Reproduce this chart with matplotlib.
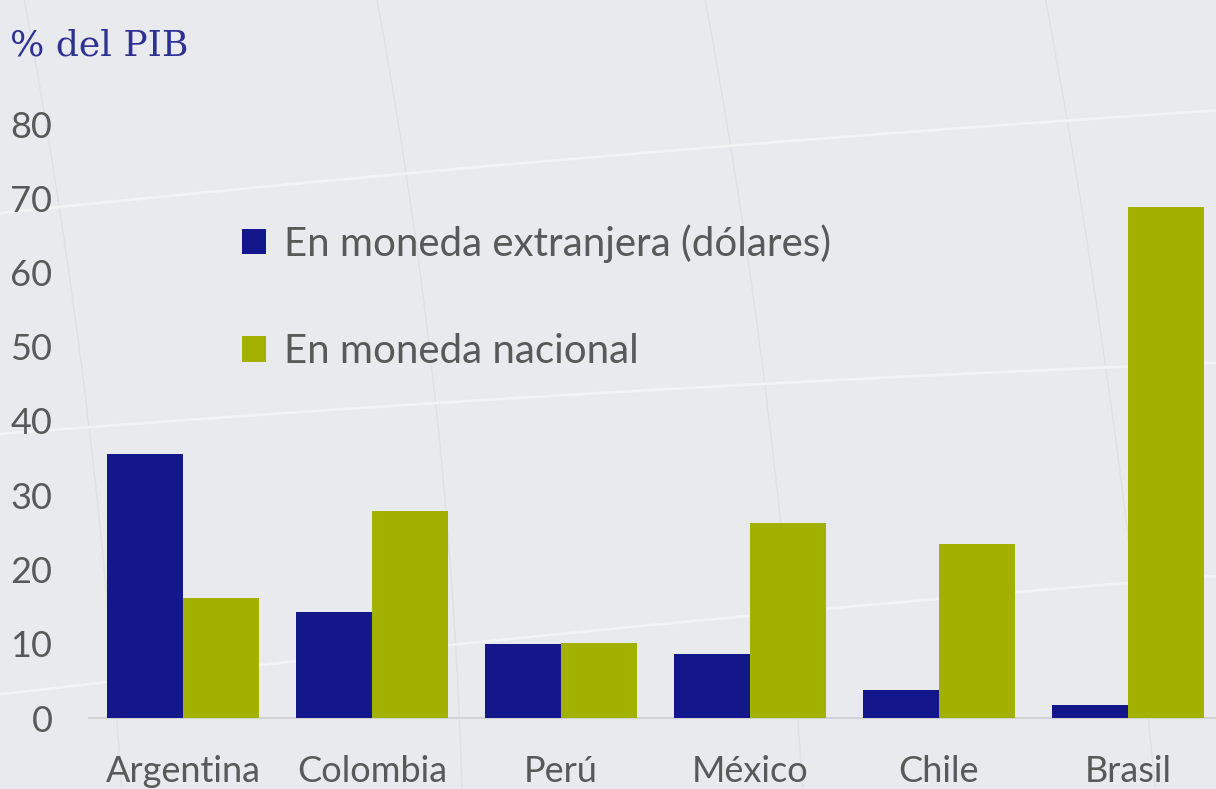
import numpy as np
import matplotlib
matplotlib.use("Agg")
from matplotlib import pyplot as plt

# data (% del PIB)
paises = ["Argentina", "Colombia", "Perú", "México", "Chile", "Brasil"]
moneda_extranjera = [35.5, 14.3, 10.0, 8.6, 3.8, 1.8]
moneda_nacional = [16.2, 27.9, 10.1, 26.2, 23.5, 68.8]
yticks = [0, 10, 20, 30, 40, 50, 60, 70, 80]

AZUL = "#14178a"
VERDE = "#a2b000"
GRIS = "#595959"
FONDO = "#e8eaee"

plt.rcParams["font.family"] = ["Lato", "DejaVu Sans"]

fig = plt.figure(figsize=(12.16, 7.89), dpi=100)
fig.patch.set_facecolor(FONDO)

# faint decorative curves of the slide background
t = np.linspace(0, 1, 200)
for x0, bend in [(0.02, 0.04), (0.31, 0.05), (0.58, 0.04), (0.86, 0.03)]:
    fig.add_artist(plt.Line2D(x0 + 0.12 * t - bend * t**2, 1 - t,
                              transform=fig.transFigure, color="#dde0e5",
                              lw=1.0, zorder=0))
for y0, slope in [(0.45, 0.12), (0.73, 0.16), (0.12, 0.18)]:
    fig.add_artist(plt.Line2D(t, y0 + slope * t - 0.03 * t**2,
                              transform=fig.transFigure, color="#f2f3f5",
                              lw=2.0, zorder=0))

ax = fig.add_axes([88.5 / 1216, 71 / 789, 6 * 189 / 1216, 594 / 789])
ax.set_facecolor("none")

x = np.arange(len(paises))
w = 0.4
ax.bar(x - w / 2, moneda_extranjera, w, color=AZUL,
       label="En moneda extranjera (dólares)", zorder=3)
ax.bar(x + w / 2, moneda_nacional, w, color=VERDE,
       label="En moneda nacional", zorder=3)

ax.set_xlim(-0.5, len(paises) - 0.5)
ax.set_ylim(0, 80)
ax.set_yticks(yticks)
ax.set_xticks(x)
ax.set_xticklabels(paises)

for s in ["top", "right", "left"]:
    ax.spines[s].set_visible(False)
ax.spines["bottom"].set_color("#d0d2d6")
ax.spines["bottom"].set_linewidth(1.5)
ax.tick_params(axis="both", length=0, labelsize=26, colors=GRIS)
ax.tick_params(axis="y", pad=26)
ax.tick_params(axis="x", pad=27)

leg = ax.legend(loc="upper left", bbox_to_anchor=(222 / 1216, 1 - 204 / 789),
                bbox_transform=fig.transFigure, frameon=False, fontsize=29,
                handlelength=0.6, handleheight=0.6, handletextpad=0.45,
                labelspacing=1.75, borderpad=0)
for txt in leg.get_texts():
    txt.set_color(GRIS)

fig.text(10 / 1216, 1 - 56 / 789, "% del PIB", color="#2e3192",
         fontsize=26, family=["DejaVu Serif"], va="baseline", ha="left")

fig.savefig("out.png", dpi=100, facecolor=fig.get_facecolor())
